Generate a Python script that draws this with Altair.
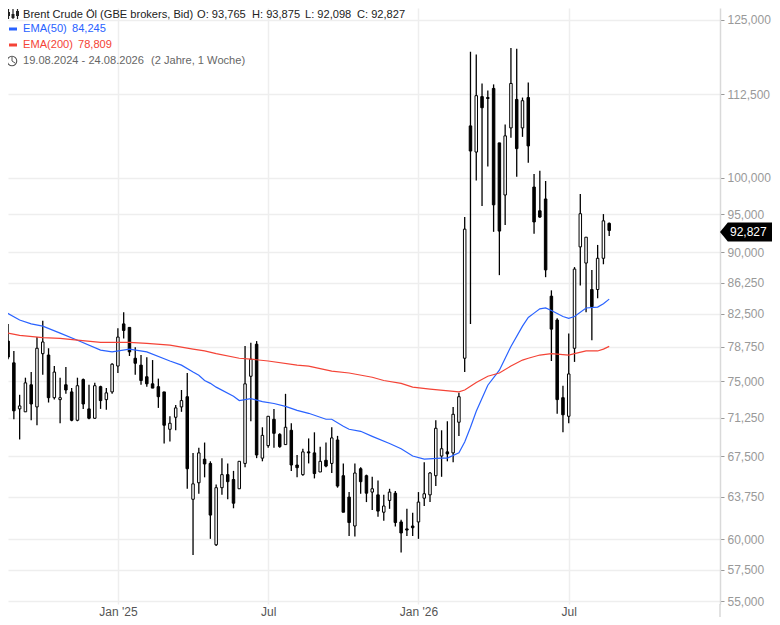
import altair as alt
import pandas as pd

opens = [79.6,79.4,77.0,72.15,71.85,74.65,72.35,78.0,77.85,73.3,73.1,74.65,73.9,71.0,75.2,72.15,71.2,74.45,73.1,73.9,
 76.65,81.35,80.95,77.5,76.75,75.5,74.75,74.45,73.9,70.1,71.3,72.35,73.4,63.5,65.0,67.2,66.8,59.55,64.55,65.75,
 65.3,64.45,66.8,75.55,79.05,67.3,68.5,71.1,69.6,68.6,70.0,66.65,65.75,67.9,67.8,66.0,67.1,66.8,69.05,65.65,
 63.7,61.15,66.3,65.65,64.15,63.9,62.35,63.4,64.05,61.5,60.9,61.15,61.5,63.6,63.9,65.65,67.5,67.9,67.8,70.8,
 77.5,107.6,103.7,112.15,112.0,113.45,105.05,97.6,107.3,111.7,107.3,112.0,98.7,95.45,97.05,84.6,81.8,73.3,71.4,78.6,
 90.7,88.65,85.4,85.4,89.25,93.765]
highs = [79.95,81.35,78.3,73.6,75.4,76.0,79.85,81.7,78.6,76.65,75.4,76.55,74.3,75.4,75.3,74.65,74.85,74.55,74.3,76.95,
 80.85,82.7,80.95,78.7,77.85,77.6,77.3,75.3,73.9,71.4,72.55,74.1,75.9,67.8,68.3,68.8,67.0,64.85,67.3,66.8,
 66.1,67.0,78.85,79.2,79.4,70.3,71.4,72.15,69.7,73.7,70.7,67.6,68.2,69.2,69.8,68.4,68.8,70.3,69.45,66.8,
 64.15,66.8,66.45,65.75,65.55,65.2,63.9,64.45,64.25,61.7,62.65,62.3,64.15,66.9,66.0,71.0,70.0,70.9,72.35,73.8,
 94.6,119.5,119.0,114.25,113.1,114.1,105.05,107.8,120.1,120.0,112.0,114.4,100.55,101.0,99.55,85.3,82.0,74.55,80.25,88.15,
 97.75,91.95,87.8,90.95,95.0,93.875]
lows = [75.9,77.4,71.1,69.1,71.85,71.0,70.5,75.7,72.8,73.1,70.7,73.7,70.9,70.9,72.15,71.1,71.15,72.15,72.05,73.7,
 75.9,79.7,77.75,75.7,74.65,74.45,74.3,72.25,68.7,68.9,70.0,71.85,64.45,58.7,64.0,65.5,60.05,59.45,63.9,63.5,
 62.7,64.45,66.45,70.9,67.3,67.0,68.3,68.3,68.3,68.6,66.1,65.5,65.65,66.8,65.4,66.0,66.45,65.9,64.55,62.35,
 60.3,60.25,64.0,63.25,62.55,61.95,61.6,62.65,61.1,58.9,60.3,60.3,60.05,62.9,63.25,64.7,65.55,67.0,66.9,69.45,
 76.0,81.35,99.6,96.1,101.6,92.65,87.15,93.55,105.8,100.15,105.95,102.15,92.4,94.5,86.9,77.2,71.65,69.8,70.7,77.1,
 85.9,82.7,79.5,84.35,88.5,92.098]
closes = [79.05,77.63,71.95,72.45,74.85,72.65,78.6,79.3,73.3,76.0,73.3,74.1,71.0,74.55,72.65,71.2,74.55,73.0,73.8,76.85,
 79.85,80.6,78.2,76.95,75.1,74.75,74.3,73.4,70.5,70.7,72.25,73.0,66.3,64.9,67.8,66.75,62.1,64.55,65.75,65.1,
 63.15,67.0,74.75,77.4,67.6,69.5,71.4,69.7,68.4,70.3,66.65,66.4,67.9,67.8,65.85,67.0,66.55,69.25,64.7,62.35,
 61.45,65.9,65.1,64.05,64.45,62.45,62.9,64.15,61.45,60.55,60.8,61.0,63.25,64.0,65.9,70.2,68.2,67.7,71.6,73.4,
 93.0,103.85,112.3,110.4,111.85,96.25,92.75,106.1,114.25,104.2,111.5,104.6,93.95,94.6,87.8,80.75,73.1,71.55,75.8,87.9,
 95.05,91.95,83.35,89.25,94.1,92.827]

ema50_week = [0,1,3,5,7,10,13,17,19,22,25,29,31,33,34,35,36,37,40,41,43,45,47,49,51,53,56,57,59,60,62,64,67,69,71,73,76,77,79,80,81,82,84,86,88,90,91,92,93,94,95,97,98,99,101,103,104,105]
ema50_val = [82.9,82.55,81.8,81.35,81.1,80.3,79.5,78.4,78.2,78.5,78.2,77.2,76.75,76.0,75.65,75.1,74.8,74.4,73.45,73.0,73.2,72.9,72.7,72.4,72.0,71.7,71.1,71.1,70.4,70.1,69.9,69.4,68.7,68.2,67.5,67.2,67.3,67.3,67.8,68.85,70.3,71.9,74.6,76.2,78.8,81.1,82.1,82.6,83.1,83.2,82.9,82.2,82.0,82.2,83.2,83.3,83.7,84.245]
ema200_week = [0,1,3,7,10,13,17,22,25,29,33,35,37,41,43,46,51,53,57,60,64,66,69,71,74,79,80,81,82,84,86,88,90,91,93,95,98,99,101,103,104,105]
ema200_val = [80.3,80.3,80.05,79.8,79.7,79.5,79.25,79.25,79.15,78.95,78.5,78.3,78.0,77.5,77.4,77.2,76.75,76.65,76.1,75.9,75.45,75.1,74.8,74.4,74.2,73.9,74.1,74.5,74.9,75.55,75.9,76.65,77.3,77.5,77.85,78.0,77.85,78.0,78.3,78.3,78.5,78.809]

price_ticks = [125,112.5,100,95,90,86.25,82.5,78.75,75,71.25,67.5,63.75,60,57.5,55]
time_ticks = [20,46,72,98]
last_close = closes[-1]

df = pd.DataFrame({"week": range(len(opens)), "o": opens, "h": highs, "l": lows, "c": closes})
df["dir"] = ["up" if c >= o else "down" for o, c in zip(opens, closes)]
ema50 = pd.DataFrame({"week": ema50_week, "v": ema50_val})
ema200 = pd.DataFrame({"week": ema200_week, "v": ema200_val})

FONT = "Liberation Sans"
xscale = alt.Scale(domain=[0.986, 124.17], nice=False, zero=False, padding=0)
yscale = alt.Scale(type="log", domain=[54.77, 127.1], nice=False, zero=False)
fmt = "replace(format(datum.value,'.3f'),'.',',')"
xlabels = "datum.value==20?\"Jan '25\":datum.value==46?'Jul':datum.value==72?\"Jan '26\":'Jul'"

x_enc = alt.X("week:Q", scale=xscale,
              axis=alt.Axis(values=time_ticks, title=None, domain=False, grid=True, gridColor="#eeeeee", gridWidth=1.5,
                            ticks=False, labelPadding=11, labelBaseline="alphabetic", labelExpr=xlabels,
                            labelColor="#555555", labelFont=FONT, labelFontSize=12))
y_enc = alt.Y("l:Q", scale=yscale,
              axis=alt.Axis(orient="right", values=price_ticks, title=None, domainColor="#d9d9d9", domainWidth=1.5,
                            grid=True, gridColor="#eeeeee", gridWidth=1.5, tickColor="#999999", tickSize=4,
                            labelPadding=3, labelExpr=fmt, labelColor="#999999", labelFont=FONT, labelFontSize=12))

wicks = alt.Chart(df).mark_rule(color="black", strokeWidth=1.3, clip=True).encode(x=x_enc, y=y_enc, y2="h:Q")
bodies = alt.Chart(df).mark_bar(size=2.5, stroke="black", strokeWidth=1, clip=True).encode(
    x=alt.X("week:Q", scale=xscale),
    y=alt.Y("o:Q", scale=yscale),
    y2="c:Q",
    fill=alt.Fill("dir:N", scale=alt.Scale(domain=["up", "down"], range=["white", "black"]), legend=None),
)
line50 = alt.Chart(ema50).mark_line(color="#2962ff", strokeWidth=1.2, clip=True).encode(
    x=alt.X("week:Q", scale=xscale), y=alt.Y("v:Q", scale=yscale))
line200 = alt.Chart(ema200).mark_line(color="#f44336", strokeWidth=1.2, clip=True).encode(
    x=alt.X("week:Q", scale=xscale), y=alt.Y("v:Q", scale=yscale))

tag_df = pd.DataFrame({"p": [last_close], "t": ["92,827"]})
tag = alt.Chart(tag_df).mark_point(
    shape="M-0.5 0.025 L-0.37 -0.133 L0.5 -0.133 L0.5 0.183 L-0.37 0.183 Z",
    size=14400, filled=True, opacity=1, color="black").encode(
    x=alt.value(742), y=alt.Y("p:Q", scale=yscale))
tag_text = alt.Chart(tag_df).mark_text(font=FONT, fontSize=12, color="white", align="left", dy=1.5).encode(
    x=alt.value(722), y=alt.Y("p:Q", scale=yscale), text="t:N")

def seg(x1, y1, x2, y2, color="#222222", w=1.2):
    return alt.Chart(pd.DataFrame({"a": [1]})).mark_rule(color=color, strokeWidth=w).encode(
        x=alt.value(x1 - 8), x2=alt.value(x2 - 8), y=alt.value(y1 - 8), y2=alt.value(y2 - 8))

axis_ext = alt.Chart(pd.DataFrame({"a": [1]})).mark_rule(color="#d9d9d9", strokeWidth=1.5).encode(
    x=alt.value(712), y=alt.value(596), y2=alt.value(609))

def label(px, py, text, color):
    return alt.Chart(pd.DataFrame({"t": [text]})).mark_text(
        font=FONT, fontSize=11.1, color=color, align="left", baseline="middle"
    ).encode(x=alt.value(px - 8), y=alt.value(py - 8), text="t:N")

labels = [
    label(23, 15, "Brent Crude Öl (GBE brokers, Bid)", "#222222"),
    label(197, 15, "O: 93,765", "#222222"),
    label(252, 15, "H: 93,875", "#222222"),
    label(305, 15, "L: 92,098", "#222222"),
    label(357, 15, "C: 92,827", "#222222"),
    label(23, 29, "EMA(50)", "#2962ff"),
    label(72, 29, "84,245", "#2962ff"),
    label(23, 45, "EMA(200)", "#f44336"),
    label(78, 45, "78,809", "#f44336"),
    label(23, 61, "19.08.2024 - 24.08.2026", "#666666"),
    label(151, 61, "(2 Jahre, 1 Woche)", "#666666"),
]
icons = [
    seg(8.5, 9, 8.5, 19), seg(13, 9, 13, 19), seg(17.5, 9, 17.5, 19),
    seg(8.5, 12, 8.5, 16, w=3), seg(13, 14, 13, 18, w=3), seg(17.5, 11, 17.5, 16, w=3),
    seg(9, 29, 17, 29, "#2962ff", 3), seg(9, 45, 17, 45, "#f44336", 3),
    seg(12, 57, 12, 61, "#555555", 1), seg(12, 61, 15, 63, "#555555", 1),
    alt.Chart(pd.DataFrame({"a": [1]})).mark_point(color="#555555", size=90, strokeWidth=1.1, filled=False, opacity=1).encode(
        x=alt.value(4), y=alt.value(53)),
]

chart = alt.layer(wicks, bodies, line50, line200, axis_ext, tag, tag_text, *labels, *icons).resolve_scale(
    x="shared", y="shared"
).properties(
    width=712, height=596,
    padding={"left": 0, "top": 0, "right": 52, "bottom": 13},
    autosize=alt.AutoSizeParams(type="none"),
).configure_view(stroke=None)

chart.save("out.html", embed_options={"renderer": "svg", "actions": False})
